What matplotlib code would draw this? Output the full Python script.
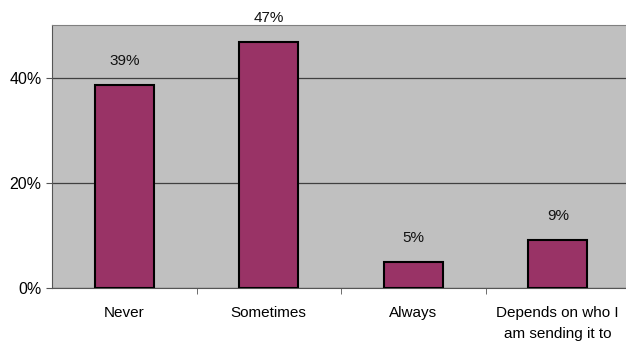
import matplotlib.pyplot as plt
from matplotlib.ticker import FixedLocator, PercentFormatter

plt.rcParams['font.family'] = ['Liberation Sans', 'DejaVu Sans']

categories = ['Never', 'Sometimes', 'Always', 'Depends on who I\nam sending it to']
values = [38.5, 46.8, 5.0, 9.1]
labels = ['39%', '47%', '5%', '9%']
yticks = [0, 20, 40]

fig = plt.figure(figsize=(6.26, 3.48), dpi=100)
ax = fig.add_axes([52 / 626, 60 / 348, 578 / 626, 263 / 348])
ax.set_facecolor('#C0C0C0')

x = range(len(categories))
ax.bar(x, values, width=0.41, color='#993366', edgecolor='black', linewidth=1.5, zorder=3)

# value labels above each bar
for xi, v, lab in zip(x, values, labels):
    ax.text(xi, v + 4.6, lab, ha='center', va='center', fontsize=11, color='#111111')

ax.set_xlim(-0.5, len(categories) - 0.5)
ax.set_ylim(0, 50)
ax.set_yticks(yticks)
ax.yaxis.set_major_formatter(PercentFormatter(decimals=0))
ax.grid(axis='y', color='#404040', linewidth=0.9, zorder=1)

ax.set_xticks(list(x))
ax.set_xticklabels(categories, fontsize=11, linespacing=1.6)
ax.tick_params(axis='x', length=0, pad=13)
ax.xaxis.set_minor_locator(FixedLocator([0.5, 1.5, 2.5]))
ax.tick_params(axis='x', which='minor', length=4, color='#555555')
ax.tick_params(axis='y', length=4, labelsize=11.5, color='#555555')

for side in ['top', 'right']:
    ax.spines[side].set_color('#808080')
ax.spines['left'].set_color('#555555')
ax.spines['bottom'].set_color('#555555')
ax.spines['top'].set_linewidth(0.8)

fig.savefig('out.png', dpi=100)
